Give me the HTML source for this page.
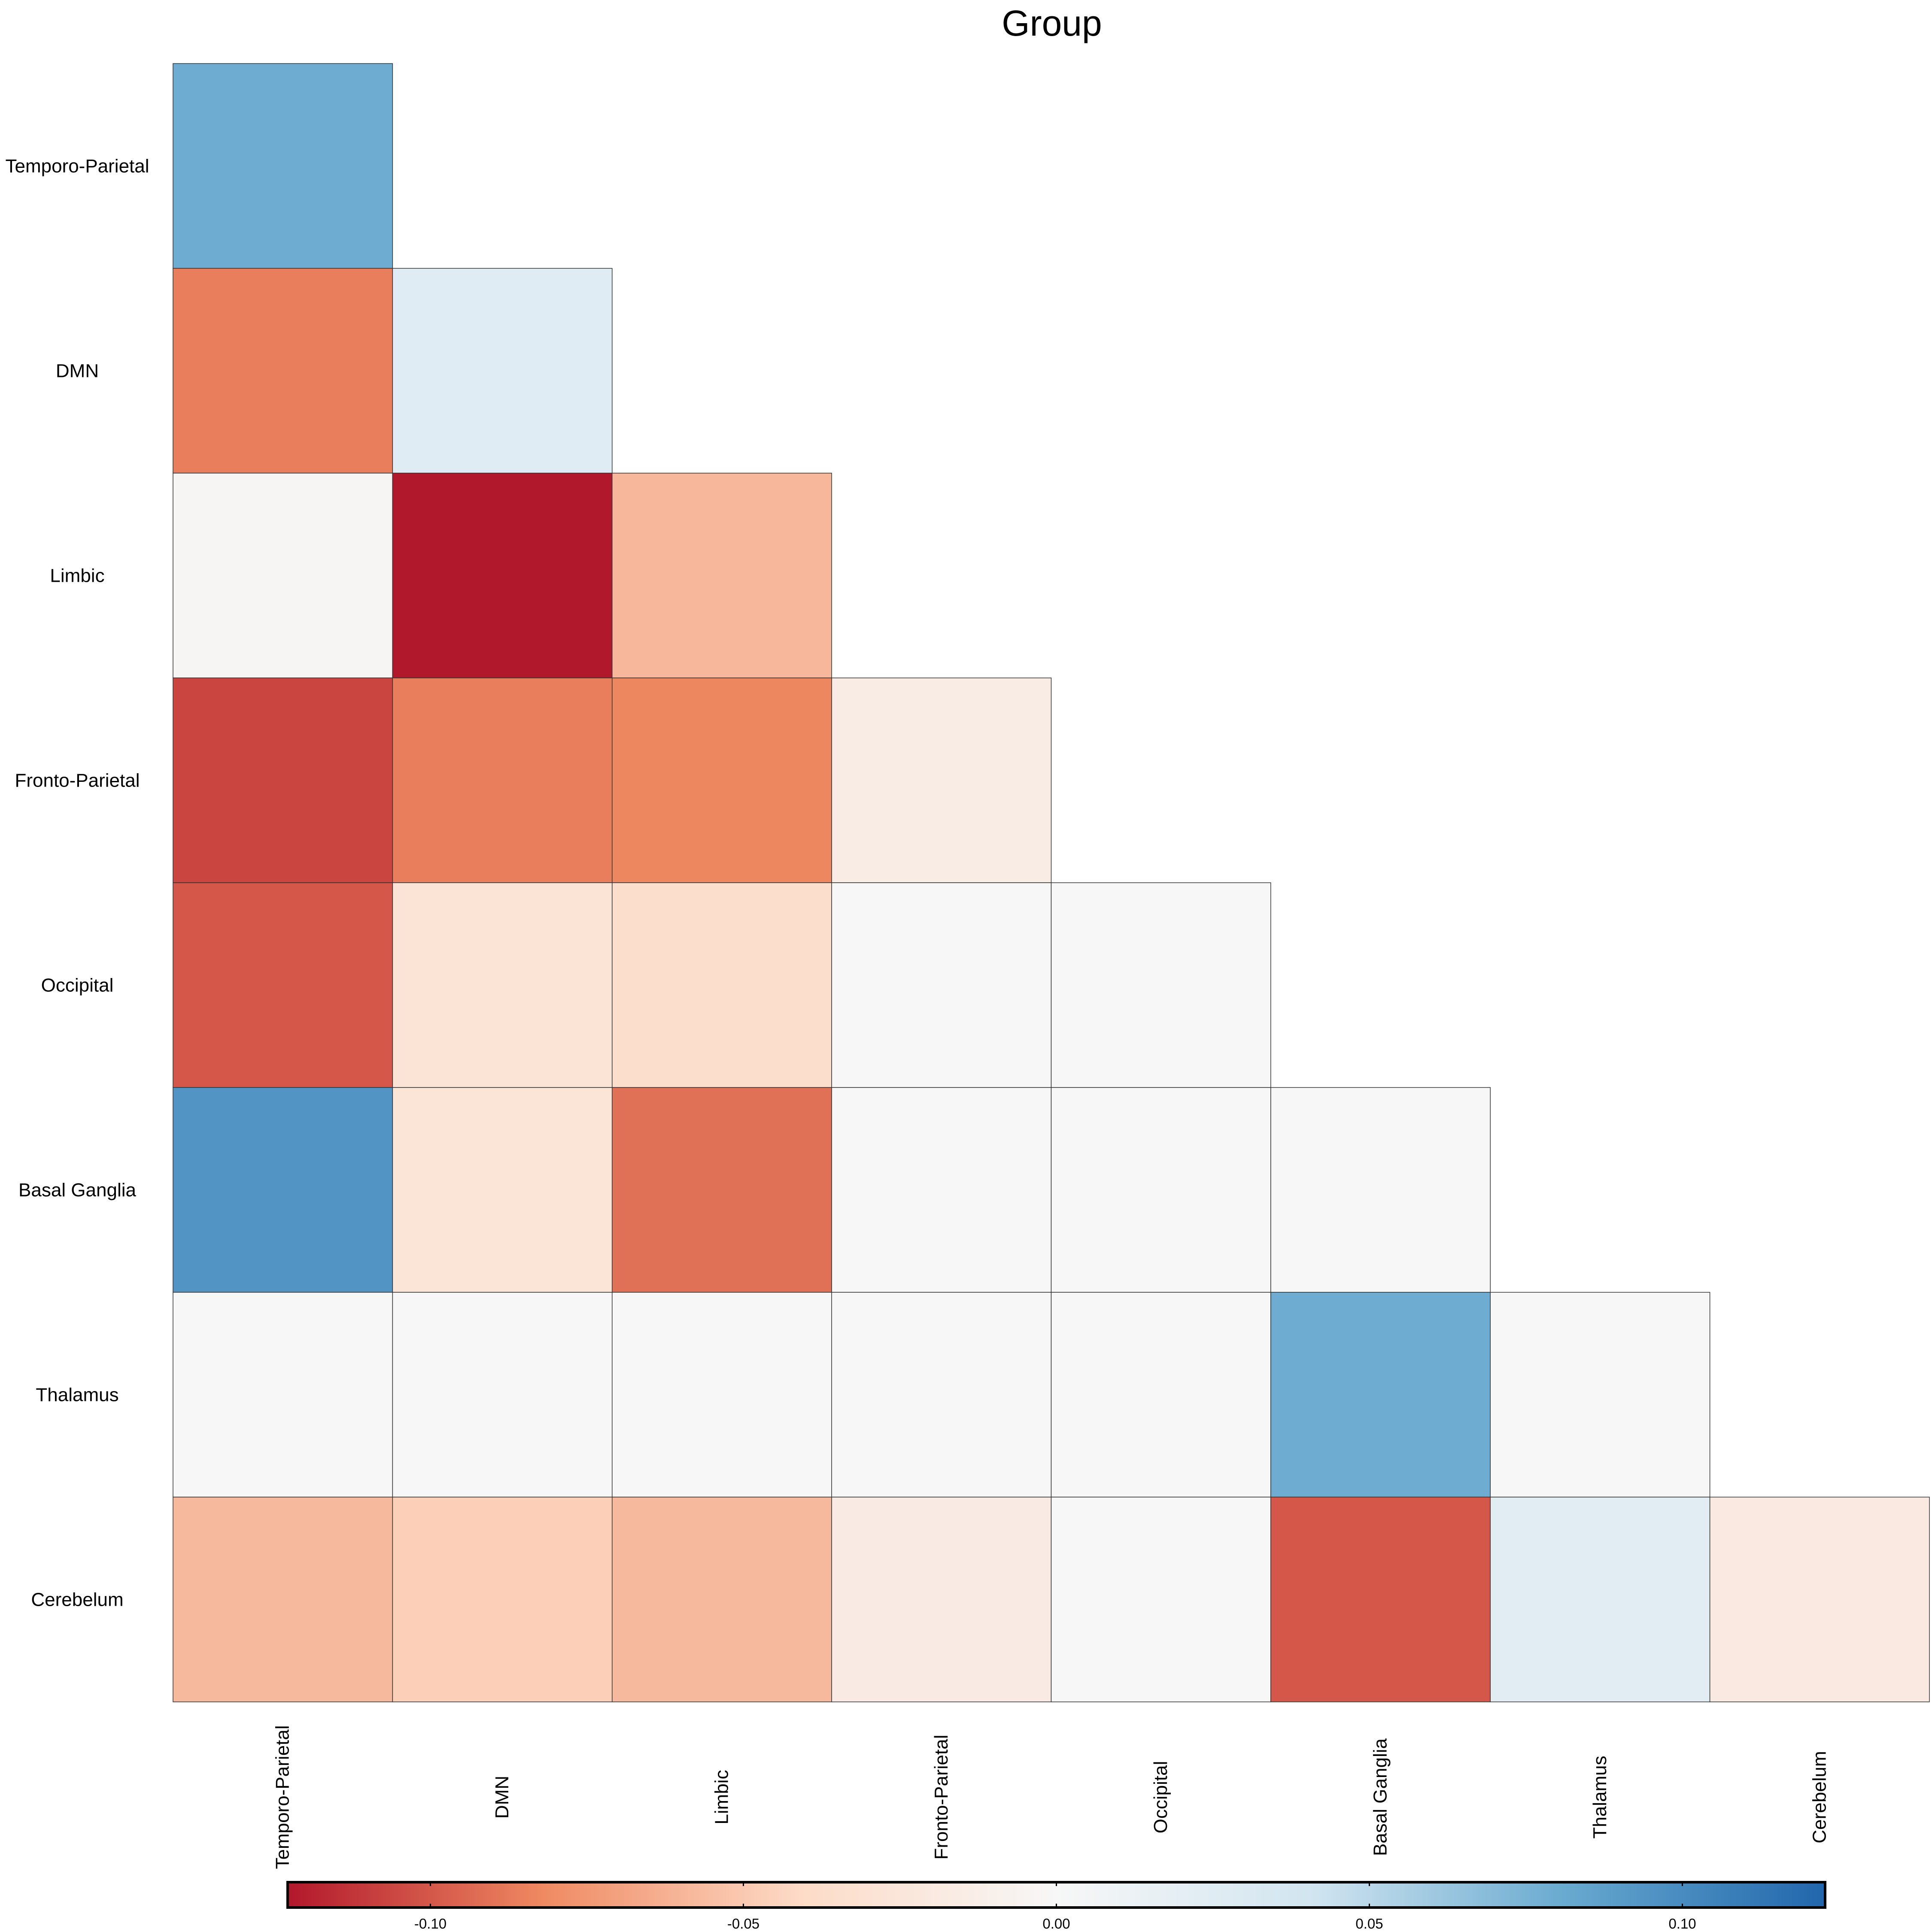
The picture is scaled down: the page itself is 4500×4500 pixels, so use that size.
<!DOCTYPE html>
<html><head><meta charset="utf-8"><style>
html,body{margin:0;padding:0;background:#fff;}
svg{display:block;font-family:"Liberation Sans",sans-serif;}
</style></head><body>
<svg id="chart" width="4500" height="4500" viewBox="0 0 4500 4500" xmlns="http://www.w3.org/2000/svg">
<defs>
<linearGradient id="cbgrad" x1="0" x2="1" y1="0" y2="0">
<stop offset="0" stop-color="#b2182b"/><stop offset="0.1667" stop-color="#ef8a62"/><stop offset="0.3333" stop-color="#fddbc7"/><stop offset="0.5" stop-color="#f7f7f7"/><stop offset="0.6667" stop-color="#d1e5f0"/><stop offset="0.8333" stop-color="#67a9cf"/><stop offset="1" stop-color="#2166ac"/>
</linearGradient>
</defs>
<text x="2450" y="83" font-size="84" text-anchor="middle">Group</text>
<g id="cells"></g>
<g id="ylabels"></g>
<g id="xlabels"></g>
<g id="colorbar"></g>
</svg>
<script>
const categories = ["Temporo-Parietal","DMN","Limbic","Fronto-Parietal","Occipital","Basal Ganglia","Thalamus","Cerebelum"];
const row0 = [0.079];
const row1 = [-0.086, 0.025];
const row2 = [-0.003, -0.123, -0.059];
const row3 = [-0.107, -0.086, -0.083, -0.016];
const row4 = [-0.100, -0.028, -0.037, 0.000, 0.000];
const row5 = [0.094, -0.027, -0.091, 0.000, 0.000, 0.000];
const row6 = [0.000, 0.000, 0.000, 0.000, 0.000, 0.079, 0.000];
const row7 = [-0.058, -0.047, -0.058, -0.017, 0.000, -0.100, 0.023, -0.020];
const rows = [row0,row1,row2,row3,row4,row5,row6,row7];
const colorbarTicks = [-0.10,-0.05,0.00,0.05,0.10];
const colorbarTickLabels = ["-0.10","-0.05","0.00","0.05","0.10"];
const limit = 0.1228;

const NS = "http://www.w3.org/2000/svg";
const plotLeft = 403, plotRight = 4494, plotTop = 148, plotBottom = 3964;
const cw = (plotRight-plotLeft)/categories.length, ch = (plotBottom-plotTop)/categories.length;
const xScale = i => plotLeft + i*cw;
const yScale = i => plotTop + i*ch;
const stopsC = ["#b2182b","#ef8a62","#fddbc7","#f7f7f7","#d1e5f0","#67a9cf","#2166ac"];
function hex(c){return [1,3,5].map(k=>parseInt(c.substr(k,2),16));}
function color(v){
  let t = (v + limit)/(2*limit); t=Math.max(0,Math.min(1,t));
  const p = t*6, i=Math.min(5,Math.floor(p)), f=p-i;
  const a=hex(stopsC[i]), b=hex(stopsC[i+1]);
  return "rgb("+a.map((x,k)=>Math.round(x+(b[k]-x)*f)).join(",")+")";
}
function mk(tag, attrs, parent){const e=document.createElementNS(NS,tag);for(const k in attrs)e.setAttribute(k,attrs[k]);parent.appendChild(e);return e;}

const gc = document.getElementById("cells");
rows.forEach((r,i)=>{
  r.forEach((v,j)=>{
    const rc = mk("rect",{x:xScale(j),y:yScale(i),width:cw,height:ch,fill:color(v),stroke:"#333","stroke-width":1.5},gc);
    
    
  });
});
const gy = document.getElementById("ylabels");
categories.forEach((c,i)=>{
  const t = mk("text",{x:180,y:yScale(i)+ch/2+15,"font-size":44,"text-anchor":"middle"},gy);
  t.textContent=c;
  
  
});
const gx = document.getElementById("xlabels");
categories.forEach((c,i)=>{
  const cx = xScale(i)+cw/2+14, cy=4186;
  const t = mk("text",{x:cx,y:cy,"font-size":44,"text-anchor":"middle",transform:"rotate(-90 "+cx+" "+cy+")"},gx);
  t.textContent=c;
  
  
});
const gb = document.getElementById("colorbar");
const cbL=670, cbR=4251, cbT=4384, cbB=4443;
const cbX = v => cbL + (v+limit)/(2*limit)*(cbR-cbL);
const bar = mk("rect",{x:cbL,y:cbT,width:cbR-cbL,height:cbB-cbT,fill:"url(#cbgrad)",stroke:"#000","stroke-width":6},gb);


colorbarTicks.forEach((v,k)=>{
  const x=cbX(v);
  const t1=mk("line",{x1:x,x2:x,y1:cbT,y2:cbT+9,stroke:"#000","stroke-width":3},gb);
  
  
  const t2=mk("line",{x1:x,x2:x,y1:cbB-9,y2:cbB,stroke:"#000","stroke-width":3},gb);
  
  
  const lb=mk("text",{x:x,y:4492,"font-size":33,"text-anchor":"middle"},gb);
  lb.textContent=colorbarTickLabels[k];
  
  
});
</script>
</body></html>
